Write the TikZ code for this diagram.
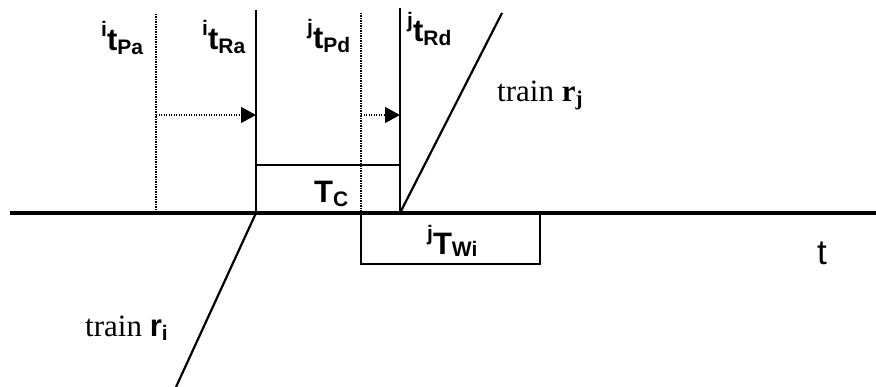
\documentclass[tikz,border=0pt]{standalone}
\usepackage{fontspec}
\setmainfont{Liberation Serif}
\setsansfont{Liberation Sans}
\usetikzlibrary{arrows.meta}
\newcommand{\suptxt}[1]{{\fontsize{21}{21}\selectfont\raisebox{14pt}{#1}}}
\newcommand{\subtxt}[1]{{\fontsize{21}{21}\selectfont\raisebox{-4pt}{#1}}}
\newcommand{\bigtxt}[1]{{\fontsize{31}{31}\selectfont #1}}
\begin{document}
\begin{tikzpicture}[x=1pt,y=-1pt,
  axisline/.style={line width=3.2pt},
  dotline/.style={line width=1.2pt,dash pattern=on 1.2pt off 1.3pt},
  solidline/.style={line width=1.8pt},
  trainline/.style={line width=2.2pt},
  boxline/.style={line width=1.8pt},
  shiftarrow/.style={line width=1.2pt,dash pattern=on 1.2pt off 1.3pt,-{Triangle[length=15pt,width=16pt]}},
  lbl/.style={inner sep=0pt,anchor=base west,font=\sffamily\bfseries},
  serif/.style={inner sep=0pt,anchor=base west,font=\rmfamily}]
\useasboundingbox (0,0) rectangle (876,387);
% coordinates
\coordinate (axL) at (10,213);
\coordinate (axR) at (876,213);
\coordinate (pa top) at (156,14);
\coordinate (pa bot) at (156,213);
\coordinate (ra top) at (256,10);
\coordinate (ra bot) at (256,213);
\coordinate (pd top) at (361,13);
\coordinate (pd bot) at (361,213);
\coordinate (rd top) at (400,8);
\coordinate (rd bot) at (400,213);
\coordinate (pa arr) at (156,115);
\coordinate (ra arr) at (256,115);
\coordinate (pd arr) at (361,115);
\coordinate (rd arr) at (400,115);
\coordinate (rj end) at (502,13);
\coordinate (ri end) at (176,387);
% axis
\draw[axisline] (axL) -- (axR);
% verticals
\draw[dotline] (pa top) -- (pa bot);
\draw[dotline] (pd top) -- (pd bot);
\draw[solidline] (ra top) -- (ra bot);
\draw[solidline] (rd top) -- (rd bot);
% arrows
\draw[shiftarrow] (pa arr) -- (ra arr);
\draw[shiftarrow] (pd arr) -- (rd arr);
% boxes
\draw[boxline] (256,165) rectangle (400,213);
\draw[boxline] (361,213) rectangle (540,264);
% trains
\draw[trainline] (rd bot) -- (rj end);
\draw[trainline] (ra bot) -- (ri end);
% labels
\node[lbl] (lPa) at (101,51) {\suptxt{i}\bigtxt{t}\subtxt{Pa}};
\node[lbl] (lRa) at (202,50) {\suptxt{i}\bigtxt{t}\subtxt{Ra}};
\node[lbl] (lPd) at (307,49) {\suptxt{j}\bigtxt{t}\subtxt{Pd}};
\node[lbl] (lRd) at (407,42) {\suptxt{j}\bigtxt{t}\subtxt{Rd}};
\node[lbl] (lTc) at (314,203) {\bigtxt{T}\subtxt{C}};
\node[lbl] (lTw) at (427,255) {\suptxt{j}\bigtxt{T}{\fontsize{21}{21}\selectfont\raisebox{-2pt}{Wi}}};
\node[serif] (lrj) at (497,102) {\fontsize{31}{31}\selectfont train \textbf{r}{\fontsize{21}{21}\selectfont\raisebox{-4pt}{\textbf{j}}}};
\node[serif] (lri) at (85,337) {\fontsize{31}{31}\selectfont train {\sffamily\bfseries r}{\fontsize{21}{21}\selectfont\raisebox{-4pt}{\sffamily\bfseries i}}};
\node[inner sep=0pt,anchor=base,font=\sffamily] (lt) at (822,265) {\fontsize{35}{35}\selectfont t};
\end{tikzpicture}
\end{document}
